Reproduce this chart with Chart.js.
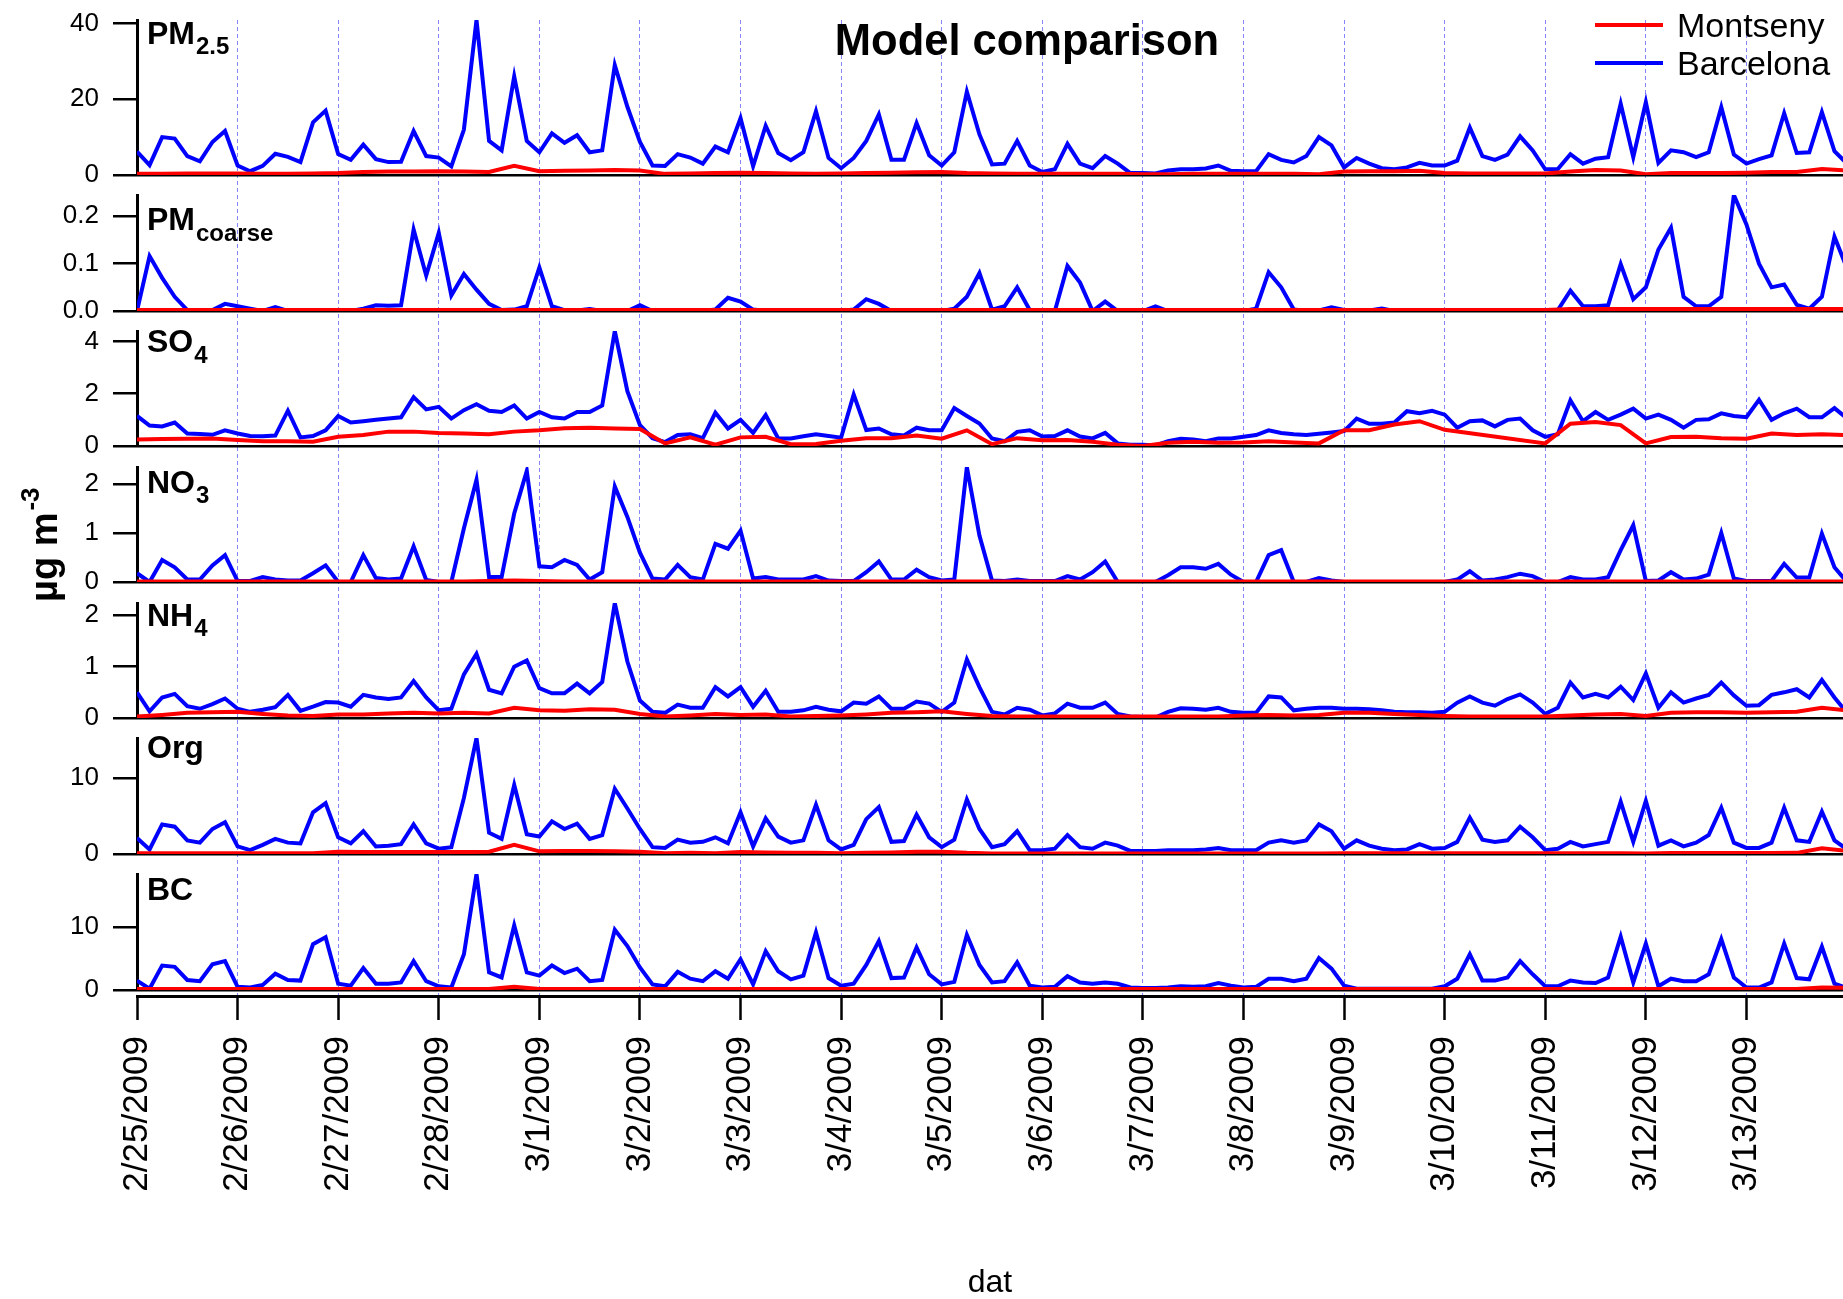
<!DOCTYPE html>
<html>
<head>
<meta charset="utf-8">
<script src="https://cdn.jsdelivr.net/npm/chart.js@4.4.1/dist/chart.umd.min.js"></script>
<style>
  html, body { margin: 0; padding: 0; background: #fff; }
  #wrap { width: 1843px; height: 1299px; }
</style>
</head>
<body>
<div id="wrap"><canvas id="chart" width="1843" height="1299"></canvas></div>
<script>
// x axis: days since 2/25/2009 00:00, one tick label per day
var dayLabels = ['2/25/2009', '2/26/2009', '2/27/2009', '2/28/2009', '3/1/2009', '3/2/2009',
  '3/3/2009', '3/4/2009', '3/5/2009', '3/6/2009', '3/7/2009', '3/8/2009', '3/9/2009',
  '3/10/2009', '3/11/2009', '3/12/2009', '3/13/2009'];

// Barcelona sampled every 3 h (8 values per day), Montseny every 6 h (4 per day)
var bcnStepHours = 3;
var monStepHours = 6;

var pm25Barcelona = [
  6.2, 2.6, 10, 9.6, 5, 3.6, 8.7, 11.6,
  2.5, 1.0, 2.4, 5.6, 4.8, 3.4, 13.9, 17,
  5.5, 4.0, 8, 4.2, 3.4, 3.5, 11.6, 5.0,
  4.6, 2.3, 12, 40.9, 9, 6.5, 26, 9,
  6, 11, 8.5, 10.5, 6, 6.5, 29, 18,
  8.7, 2.5, 2.4, 5.5, 4.6, 3, 7.5, 6,
  15, 2.3, 13, 5.8, 3.9, 6, 16.8, 4.5,
  1.8, 4.5, 9, 16, 4, 4, 13.7, 5.2,
  2.5, 6, 22, 10.7, 2.8, 3, 9, 2.5,
  0.8, 1.5, 8.2, 3, 1.8, 5, 3, 0.5,
  0.5, 0.4, 1.2, 1.5, 1.5, 1.7, 2.5, 1.1,
  1.0, 1.0, 5.5, 4, 3.3, 5, 10, 7.8,
  2, 4.5, 3, 1.8, 1.5, 2, 3.2, 2.5,
  2.5, 3.8, 12.5, 5, 4, 5.4, 10.2, 6.5,
  1.5, 1.6, 5.5, 3, 4.3, 4.7, 18.8, 4.7,
  19.2, 3.2, 6.5, 6, 4.7, 6, 17.9, 5.4,
  3, 4.2, 5.2, 16.3, 5.8, 6, 16.6, 6.3,
  3
];
var pm25Montseny = [
  0.3, 0.3, 0.4, 0.4,  0.4, 0.3, 0.3, 0.4,  0.5, 0.8, 0.9, 0.9,  1.0, 0.9, 0.8, 2.4,
  1.0, 1.1, 1.2, 1.3,  1.2, 0.3, 0.4, 0.5,  0.6, 0.5, 0.4, 0.3,  0.4, 0.5, 0.6, 0.7,
  0.8, 0.5, 0.4, 0.3,  0.3, 0.3, 0.3, 0.3,  0.2, 0.2, 0.3, 0.3,  0.3, 0.3, 0.3, 0.2,
  0.9, 1.0, 1.0, 1.1,  0.5, 0.4, 0.4, 0.4,  0.4, 0.9, 1.3, 1.2,  0.2, 0.5, 0.5, 0.5,
  0.6, 0.8, 0.8, 1.6,  1.2
];

var coarseBarcelona = [
  0, 0.116, 0.07, 0.03, 0.002, 0, 0.002, 0.015,
  0.01, 0.005, 0, 0.008, 0, 0, 0, 0,
  0, 0, 0.005, 0.012, 0.011, 0.012, 0.172, 0.075,
  0.165, 0.033, 0.078, 0.045, 0.015, 0.002, 0.003, 0.01,
  0.092, 0.01, 0.002, 0.001, 0.004, 0, 0, 0,
  0.012, 0, 0, 0, 0, 0, 0.003, 0.028,
  0.02, 0.003, 0, 0, 0, 0, 0, 0,
  0, 0.003, 0.025, 0.015, 0, 0, 0, 0,
  0, 0.005, 0.03, 0.08, 0.003, 0.01, 0.05, 0.002,
  0, 0, 0.095, 0.06, 0, 0.02, 0, 0,
  0, 0.01, 0, 0, 0, 0, 0, 0,
  0, 0.005, 0.082, 0.05, 0.003, 0, 0.001, 0.008,
  0.002, 0.001, 0.001, 0.005, 0, 0, 0, 0,
  0, 0, 0, 0, 0, 0, 0, 0,
  0, 0.002, 0.043, 0.01, 0.01, 0.012, 0.099, 0.025,
  0.05, 0.13, 0.176, 0.03, 0.01, 0.01, 0.03, 0.245,
  0.183, 0.1, 0.05, 0.056, 0.013, 0.005, 0.03, 0.157,
  0.09
];
var coarseMontseny = [
  0.002, 0.002, 0.002, 0.002,  0.002, 0.002, 0.002, 0.002,  0.002, 0.002, 0.002, 0.002,
  0.002, 0.002, 0.002, 0.002,  0.002, 0.002, 0.002, 0.002,  0.002, 0.002, 0.002, 0.002,
  0.002, 0.002, 0.002, 0.002,  0.002, 0.002, 0.002, 0.002,  0.002, 0.002, 0.002, 0.002,
  0.002, 0.002, 0.002, 0.002,  0.002, 0.002, 0.002, 0.002,  0.002, 0.002, 0.002, 0.002,
  0.002, 0.002, 0.002, 0.002,  0.002, 0.002, 0.002, 0.002,  0.002, 0.004, 0.004, 0.004,
  0.004, 0.004, 0.004, 0.004,  0.004, 0.004, 0.004, 0.004,  0.004
];

var so4Barcelona = [
  1.15, 0.78, 0.75, 0.9, 0.48, 0.46, 0.43, 0.6,
  0.48, 0.38, 0.37, 0.4, 1.35, 0.33, 0.38, 0.6,
  1.15, 0.9, 0.95, 1.0, 1.05, 1.1, 1.87, 1.4,
  1.5, 1.05, 1.37, 1.6, 1.35, 1.3, 1.55, 1.05,
  1.3, 1.1, 1.05, 1.3, 1.3, 1.55, 4.4, 2.1,
  0.8, 0.3, 0.15, 0.42, 0.45, 0.3, 1.27, 0.67,
  1.0, 0.5, 1.18, 0.29, 0.29, 0.37, 0.45, 0.38,
  0.32, 1.97, 0.61, 0.67, 0.45, 0.4, 0.7, 0.6,
  0.6, 1.45, 1.15, 0.86, 0.29, 0.18, 0.54, 0.6,
  0.36, 0.38, 0.6, 0.36, 0.29, 0.5, 0.1, 0.05,
  0.05, 0.02, 0.18, 0.28, 0.25, 0.18, 0.29, 0.29,
  0.35, 0.42, 0.6, 0.5, 0.45, 0.42, 0.47, 0.52,
  0.57, 1.05, 0.85, 0.85, 0.9, 1.33, 1.25, 1.35,
  1.2, 0.7, 0.95, 0.98, 0.75, 1.0, 1.05, 0.6,
  0.35, 0.45, 1.75, 0.95, 1.3, 1.0, 1.2, 1.43,
  1.05, 1.2, 1.0, 0.7, 1.0, 1.02, 1.25, 1.15,
  1.1, 1.77, 1.0, 1.25, 1.43, 1.1, 1.1, 1.45,
  1.05
];
var so4Montseny = [
  0.25, 0.27, 0.28, 0.29,  0.23, 0.18, 0.18, 0.16,  0.35, 0.42, 0.55, 0.55,  0.5, 0.48, 0.45, 0.55,
  0.6, 0.68, 0.7, 0.67,  0.65, 0.1, 0.33, 0.05,  0.33, 0.35, 0.07, 0.08,  0.2, 0.3, 0.3, 0.4,
  0.28, 0.6, 0.07, 0.3,  0.22, 0.23, 0.16, 0.05,  0.0, 0.12, 0.16, 0.12,  0.13, 0.18, 0.13, 0.1,
  0.6, 0.6, 0.82, 0.95,  0.62, null, null, null,  0.1, 0.85, 0.92, 0.8,  0.1, 0.34, 0.35, 0.3,
  0.28, 0.48, 0.42, 0.45,  0.42
];

var no3Barcelona = [
  0.18, 0.0, 0.45, 0.3, 0.05, 0.05, 0.34, 0.55,
  0.02, 0.02, 0.1, 0.05, 0.03, 0.03, 0.18, 0.34,
  0.0, 0.0, 0.55, 0.08, 0.05, 0.07, 0.73, 0.04,
  0.0, 0.0, 1.1, 2.09, 0.1, 0.1, 1.4, 2.27,
  0.32, 0.3, 0.45, 0.35, 0.05, 0.2, 1.95, 1.33,
  0.6, 0.07, 0.05, 0.35, 0.1, 0.05, 0.78, 0.68,
  1.05, 0.07, 0.1, 0.05, 0.05, 0.05, 0.12, 0.03,
  0.02, 0.02, 0.2, 0.42, 0.05, 0.05, 0.25, 0.1,
  0.03, 0.05, 2.35, 0.95, 0.03, 0.02, 0.05, 0.02,
  0.02, 0.02, 0.12, 0.05, 0.2, 0.42, 0.0, 0.0,
  0.0, 0.0, 0.14, 0.3, 0.3, 0.27, 0.37, 0.15,
  0.0, 0.0, 0.55, 0.65, 0.0, 0.0, 0.08, 0.03,
  0, 0, 0, 0, 0, 0, 0, 0,
  0.0, 0.05, 0.22, 0.03, 0.05, 0.1, 0.17, 0.12,
  0.0, 0.0, 0.1, 0.05, 0.05, 0.1, 0.65, 1.16,
  0.02, 0.03, 0.2, 0.05, 0.07, 0.15, 1.0, 0.07,
  0.02, 0.02, 0.02, 0.37, 0.09, 0.09, 0.99, 0.3,
  0.0
];
var no3Montseny = [
  0.01, 0.01, 0.01, 0.01,  0.01, 0.01, 0.01, 0.01,  0.01, 0.01, 0.01, 0.01,  0.01, 0.01, 0.02, 0.03,
  0.02, 0.01, 0.01, 0.01,  0.01, 0.01, 0.01, 0.01,  0.01, 0.01, 0.01, 0.01,  0.01, 0.01, 0.01, 0.01,
  0.01, 0.01, 0.01, 0.01,  0.01, 0.01, 0.01, 0.01,  0.01, 0.01, 0.01, 0.01,  0.01, 0.01, 0.01, 0.01,
  0.01, 0.01, 0.01, 0.01,  0.01, 0.01, 0.01, 0.01,  0.01, 0.01, 0.01, 0.01,  0.01, 0.01, 0.01, 0.01,
  0.01, 0.01, 0.01, 0.01,  0.01
];

var nh4Barcelona = [
  0.5, 0.13, 0.4, 0.47, 0.23, 0.18, 0.27, 0.38,
  0.18, 0.12, 0.16, 0.21, 0.45, 0.14, 0.22, 0.31,
  0.3, 0.22, 0.45, 0.4, 0.37, 0.4, 0.72, 0.4,
  0.15, 0.18, 0.85, 1.25, 0.55, 0.48, 1.0, 1.12,
  0.58, 0.48, 0.48, 0.67, 0.48, 0.7, 2.24, 1.1,
  0.34, 0.12, 0.1, 0.26, 0.2, 0.2, 0.6, 0.42,
  0.6, 0.22, 0.53, 0.12, 0.12, 0.15, 0.22, 0.16,
  0.13, 0.3, 0.28, 0.42, 0.18, 0.18, 0.32, 0.28,
  0.12, 0.3, 1.14, 0.6, 0.12, 0.07, 0.2, 0.16,
  0.05, 0.09, 0.28, 0.2, 0.2, 0.3, 0.08, 0.03,
  0.02, 0.01, 0.12, 0.19, 0.18, 0.16, 0.2, 0.12,
  0.1, 0.1, 0.42, 0.4, 0.15, 0.18, 0.2, 0.2,
  0.18, 0.18, 0.17, 0.15, 0.12, 0.11, 0.11, 0.1,
  0.12, 0.3, 0.42, 0.3, 0.24, 0.37, 0.46, 0.3,
  0.08, 0.2, 0.69, 0.4, 0.47, 0.4, 0.61, 0.35,
  0.87, 0.2, 0.5, 0.3, 0.38, 0.45, 0.69, 0.44,
  0.24, 0.25, 0.45, 0.5, 0.56, 0.4, 0.74, 0.4,
  0.1
];
var nh4Montseny = [
  0.03, 0.06, 0.1, 0.11,  0.12, 0.08, 0.05, 0.04,  0.07, 0.07, 0.09, 0.1,  0.09, 0.1, 0.09, 0.2,
  0.15, 0.14, 0.17, 0.16,  0.08, 0.03, 0.05, 0.08,  0.06, 0.07, 0.03, 0.04,  0.05, 0.07, 0.1, 0.11,
  0.13, 0.08, 0.04, 0.03,  0.03, 0.03, 0.03, 0.03,  0.03, 0.03, 0.03, 0.03,  0.05, 0.06, 0.05, 0.06,
  0.1, 0.1, 0.08, 0.06,  0.04, 0.03, 0.03, 0.03,  0.03, 0.05, 0.07, 0.08,  0.04, 0.1, 0.11, 0.11,
  0.1, 0.11, 0.12, 0.2,  0.15
];

var orgBarcelona = [
  2.1, 0.6, 3.9, 3.6, 1.8, 1.5, 3.3, 4.2,
  1.0, 0.5, 1.2, 2.0, 1.5, 1.4, 5.5, 6.7,
  2.2, 1.4, 3.0, 1.0, 1.1, 1.3, 3.9, 1.4,
  0.7, 0.9, 7.4, 15.3, 2.8, 2.0, 9.1, 2.6,
  2.3, 4.3, 3.3, 4.0, 2.0, 2.5, 8.6, 6.0,
  3.3, 0.9, 0.8, 1.9, 1.5, 1.6, 2.2, 1.4,
  5.5, 1.0, 4.7, 2.3, 1.5, 1.8, 6.5, 1.8,
  0.6, 1.2, 4.6, 6.2, 1.6, 1.7, 5.2, 2.2,
  0.9, 1.9, 7.2, 3.3, 0.9, 1.3, 3.0, 0.5,
  0.5, 0.7, 2.5, 0.9, 0.7, 1.5, 1.1, 0.4,
  0.4, 0.4, 0.5, 0.5, 0.5, 0.6, 0.8, 0.5,
  0.5, 0.5, 1.5, 1.8, 1.5, 1.8, 3.9, 3.0,
  0.7, 1.8, 1.1, 0.7, 0.5, 0.6, 1.3, 0.7,
  0.8, 1.6, 4.8, 1.9, 1.6, 1.8, 3.6, 2.2,
  0.5, 0.7, 1.6, 1.0, 1.3, 1.6, 6.9, 1.6,
  7.0, 1.1, 1.8, 1.0, 1.5, 2.5, 6.1, 1.5,
  0.8, 0.8, 1.5, 6.1, 1.8, 1.6, 5.6, 1.8,
  0.6
];
var orgMontseny = [
  0.1, 0.1, 0.1, 0.1,  0.1, 0.1, 0.1, 0.1,  0.3, 0.25, 0.25, 0.25,  0.25, 0.25, 0.3, 1.2,
  0.35, 0.4, 0.4, 0.35,  0.3, 0.1, 0.15, 0.1,  0.25, 0.2, 0.15, 0.15,  0.1, 0.15, 0.2, 0.3,
  0.3, 0.15, 0.08, 0.08,  0.08, 0.08, 0.08, 0.08,  0.08, 0.08, 0.08, 0.08,  0.05, 0.05, 0.05, 0.05,
  0.1, 0.1, 0.1, 0.1,  0.1, 0.1, 0.1, 0.1,  0.1, 0.1, 0.1, 0.1,  0.05, 0.12, 0.12, 0.12,
  0.12, 0.12, 0.15, 0.75,  0.4
];

var bcBarcelona = [
  1.5, 0.2, 3.9, 3.7, 1.6, 1.4, 4.1, 4.6,
  0.5, 0.4, 0.8, 2.6, 1.6, 1.5, 7.3, 8.4,
  1.0, 0.7, 3.5, 1.0, 1.0, 1.2, 4.6, 1.4,
  0.6, 0.4, 5.7, 18.5, 2.8, 2.0, 10.3, 2.8,
  2.3, 3.9, 2.7, 3.4, 1.4, 1.6, 9.6, 7.0,
  3.6, 0.9, 0.6, 2.9, 1.8, 1.4, 3.0, 1.8,
  4.9, 0.9, 6.2, 3.0, 1.7, 2.3, 9.2, 1.9,
  0.7, 1.0, 4.0, 7.8, 1.9, 2.0, 6.8, 2.5,
  0.9, 1.3, 8.8, 4.0, 1.2, 1.4, 4.4, 0.7,
  0.4, 0.5, 2.2, 1.2, 1.0, 1.2, 1.0, 0.4,
  0.3, 0.3, 0.4, 0.6, 0.5, 0.6, 1.1, 0.7,
  0.4, 0.5, 1.8, 1.8, 1.4, 1.8, 5.1, 3.4,
  0.7, 0.2, 0.2, 0.2, 0.2, 0.2, 0.2, 0.2,
  0.6, 1.8, 5.7, 1.5, 1.5, 2.0, 4.6, 2.5,
  0.6, 0.6, 1.5, 1.2, 1.1, 2.0, 8.5, 1.2,
  7.4, 0.6, 1.8, 1.4, 1.4, 2.5, 8.1, 2.0,
  0.4, 0.4, 1.2, 7.4, 1.9, 1.7, 6.9, 1.0,
  0.3
];
var bcMontseny = [
  0.15, 0.15, 0.15, 0.15,  0.15, 0.15, 0.15, 0.15,  0.15, 0.15, 0.15, 0.15,  0.15, 0.15, 0.15, 0.5,
  0.15, 0.15, 0.15, 0.15,  0.15, 0.15, 0.15, 0.15,  0.15, 0.15, 0.15, 0.15,  0.15, 0.15, 0.15, 0.15,
  0.15, 0.15, 0.15, 0.15,  0.15, 0.15, 0.15, 0.15,  0.15, 0.15, 0.15, 0.15,  0.15, 0.15, 0.15, 0.15,
  0.15, 0.15, 0.15, 0.15,  0.15, 0.15, 0.15, 0.15,  0.15, 0.15, 0.15, 0.15,  0.15, 0.15, 0.15, 0.15,
  0.15, 0.15, 0.15, 0.4,  0.35
];

var panels = [
  {name: 'PM', sub: '2.5', bcn: pm25Barcelona, mon: pm25Montseny, step: 20, dec: 0},
  {name: 'PM', sub: 'coarse', bcn: coarseBarcelona, mon: coarseMontseny, step: 0.1, dec: 1},
  {name: 'SO', sub: '4', bcn: so4Barcelona, mon: so4Montseny, step: 2, dec: 0},
  {name: 'NO', sub: '3', bcn: no3Barcelona, mon: no3Montseny, step: 1, dec: 0},
  {name: 'NH', sub: '4', bcn: nh4Barcelona, mon: nh4Montseny, step: 1, dec: 0},
  {name: 'Org', sub: '', bcn: orgBarcelona, mon: orgMontseny, step: 10, dec: 0},
  {name: 'BC', sub: '', bcn: bcBarcelona, mon: bcMontseny, step: 10, dec: 0}
];

// layout in pixels
var panelHeights = [155, 116, 115, 115, 115, 116, 116];
var gapHeights = [20, 20, 21, 21, 20, 20];
var labelDy = [23.5, 35, 21, 26, 23, 20, 26];
var subDy = [10, 11, 11, 10, 10, 0, 0];
var xMax = 16.96;
var FONT = "'Liberation Sans', Arial, sans-serif";

Chart.defaults.font.family = FONT;
Chart.defaults.color = '#000';

function toPoints(values, stepHours) {
  return values.map(function (v, i) { return {x: i * stepHours / 24, y: v}; });
}

var scales = {
  x: {
    type: 'linear', position: 'bottom', min: 0, max: xMax,
    afterBuildTicks: function (s) { s.ticks = s.ticks.filter(function (t) { return Number.isInteger(t.value); }); },
    afterFit: function (s) { s.height = 303; },
    ticks: {
      stepSize: 1, autoSkip: false, minRotation: 90, maxRotation: 90, padding: 16,
      font: {size: 35}, color: '#000',
      callback: function (v) { return dayLabels[v]; }
    },
    grid: {
      color: function (c) { return c.tick && c.tick.value === 0 ? 'rgba(0,0,0,0)' : '#8585ff'; },
      lineWidth: 1, tickLength: 24, tickColor: '#000', tickWidth: 2.5
    },
    border: {display: true, color: '#000', width: 3, dash: [4, 3]},
    title: {display: true, text: 'dat', font: {size: 32}, color: '#000', padding: {top: 0, bottom: -3}}
  }
};

var datasets = [];
panels.forEach(function (p, k) {
  var id = 'y' + k;
  scales[id] = {
    type: 'linear', position: 'left', stack: 'panels', stackWeight: panelHeights[k], weight: 100 - 2 * k,
    min: 0, max: Math.max.apply(null, p.bcn),
    afterFit: function (s) { s.width = 137; s.paddingTop = 0; s.paddingBottom = 0; },
    afterBuildTicks: function (s) {
      var out = [];
      for (var n = 0; n * p.step <= s.max + 1e-9; n++) out.push({value: +(n * p.step).toFixed(6)});
      s.ticks = out;
    },
    ticks: {
      stepSize: p.step, padding: 14, font: {size: 26}, color: '#000',
      callback: function (v) { return Number(v).toFixed(p.dec); }
    },
    grid: {
      color: function (c) { return c.tick && c.tick.value === 0 ? '#000' : 'rgba(0,0,0,0)'; },
      lineWidth: 2.5, tickLength: 24, tickColor: '#000', tickWidth: 2.5
    },
    border: {display: true, color: '#000', width: 3}
  };
  if (k < gapHeights.length) {
    scales['gap' + k] = {
      type: 'linear', position: 'left', stack: 'panels', stackWeight: gapHeights[k],
      weight: 100 - 2 * k - 1, display: false
    };
  }
  datasets.push({
    label: 'Montseny', data: toPoints(p.mon, monStepHours), xAxisID: 'x', yAxisID: id,
    borderColor: '#ff0000', borderWidth: 4, pointRadius: 0, tension: 0, spanGaps: true
  });
  datasets.push({
    label: 'Barcelona', data: toPoints(p.bcn, bcnStepHours), xAxisID: 'x', yAxisID: id,
    borderColor: '#0000ff', borderWidth: 4, pointRadius: 0, tension: 0, spanGaps: true
  });
});
// small offset between the BC panel and the date axis
scales.gapBottom = {type: 'linear', position: 'left', stack: 'panels', stackWeight: 6, weight: 0, display: false};

var decorations = {
  id: 'decorations',
  afterDraw: function (chart) {
    var ctx = chart.ctx;
    ctx.save();
    ctx.fillStyle = '#000';
    ctx.textBaseline = 'alphabetic';

    // title
    ctx.font = 'bold 43.5px ' + FONT;
    ctx.textAlign = 'center';
    ctx.fillText('Model comparison', 1027, 55);

    // legend
    ctx.textAlign = 'left';
    ctx.font = '34px ' + FONT;
    [0, 1].forEach(function (n) {
      var ds = chart.data.datasets[n];
      var y = 25 + n * 38;
      ctx.strokeStyle = ds.borderColor;
      ctx.lineWidth = 4;
      ctx.beginPath();
      ctx.moveTo(1595, y);
      ctx.lineTo(1663, y);
      ctx.stroke();
      ctx.fillText(ds.label, 1677, y + 12);
    });

    // panel labels
    panels.forEach(function (p, k) {
      var s = chart.scales['y' + k];
      var y = s.top + labelDy[k];
      ctx.font = 'bold 32px ' + FONT;
      ctx.fillText(p.name, 147, y);
      if (p.sub) {
        var w = ctx.measureText(p.name).width;
        ctx.font = 'bold 24px ' + FONT;
        ctx.fillText(p.sub, 148 + w, y + subDy[k]);
      }
    });

    // unit label
    ctx.translate(57, 602);
    ctx.rotate(-Math.PI / 2);
    ctx.font = 'bold 38px ' + FONT;
    ctx.fillText('\u00b5g m', 0, 0);
    var uw = ctx.measureText('\u00b5g m').width;
    ctx.font = 'bold 26px ' + FONT;
    ctx.fillText('-3', uw + 2, -18);
    ctx.restore();
  }
};

new Chart(document.getElementById('chart'), {
  type: 'line',
  data: {datasets: datasets},
  options: {
    responsive: false,
    animation: false,
    devicePixelRatio: 1,
    events: [],
    layout: {padding: {top: 20, left: 0, right: 0, bottom: 0}},
    plugins: {legend: {display: false}, tooltip: {enabled: false}},
    scales: scales
  },
  plugins: [decorations]
});
</script>
</body>
</html>
